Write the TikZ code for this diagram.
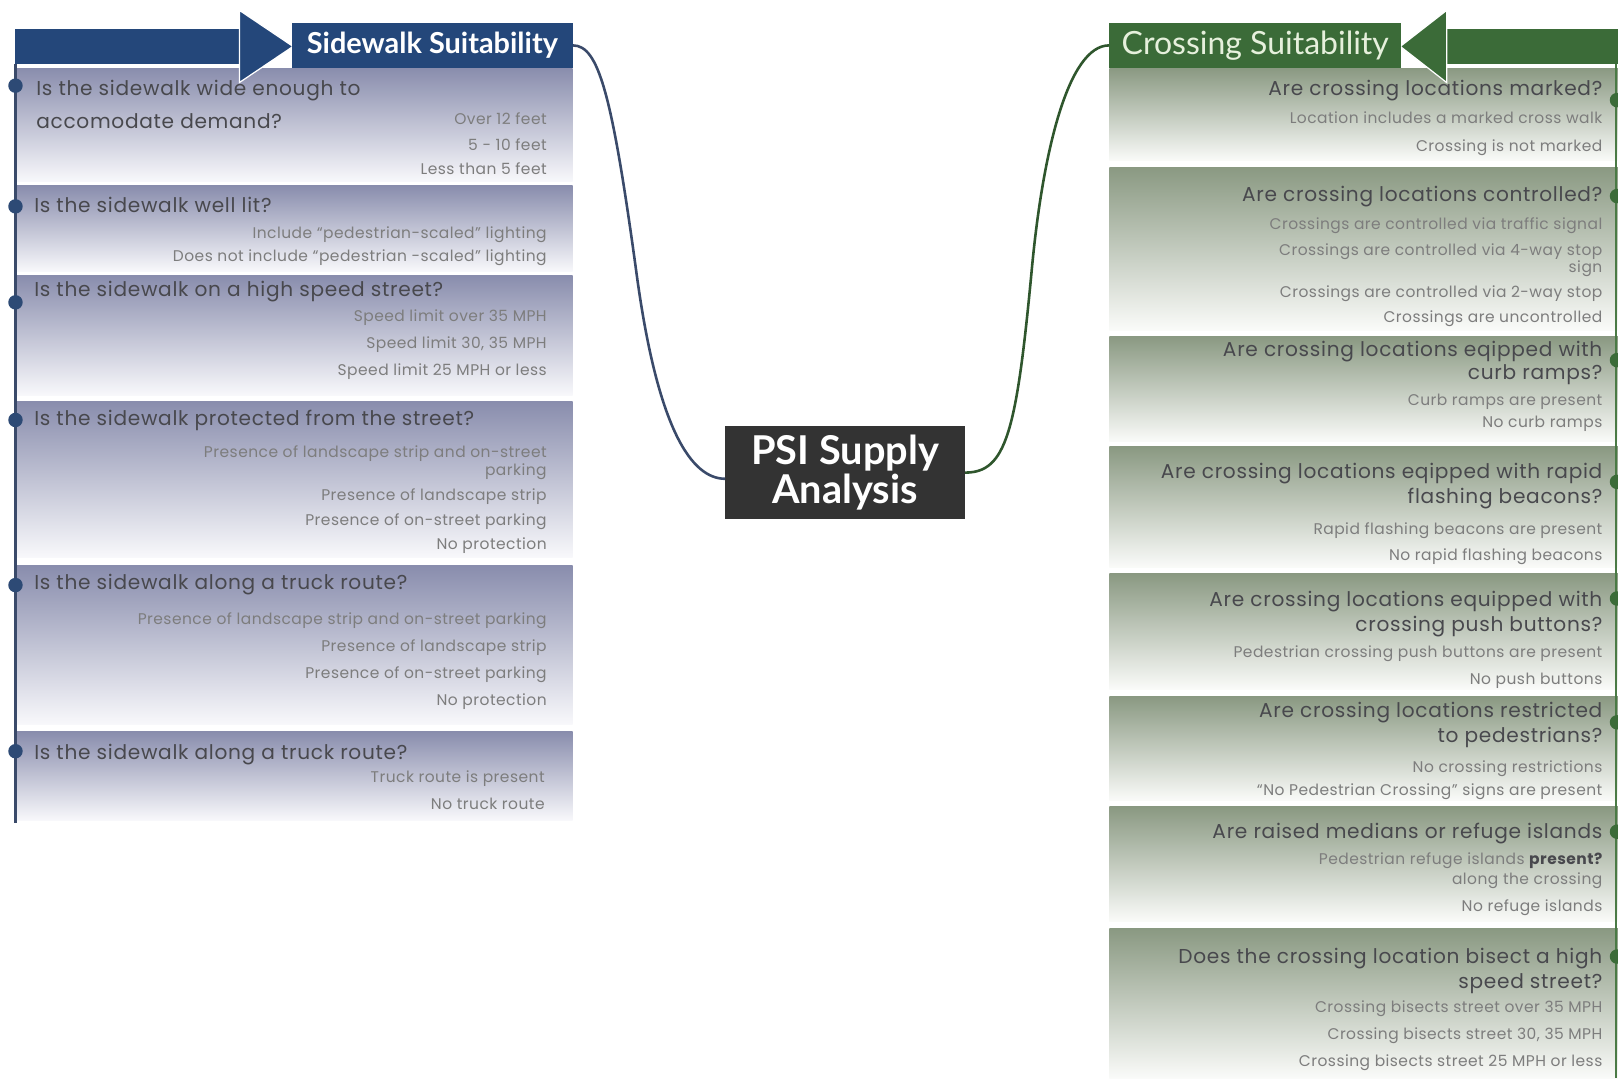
\documentclass[tikz,border=0pt]{standalone}
\usepackage{fontspec}
\usetikzlibrary{calc}
\newfontfamily\geoq{Poppins}[LetterSpace=3.5]
\newfontfamily\geoa{Poppins}[LetterSpace=3]
\newfontfamily\hum{Lato}
\definecolor{swblue}{HTML}{24477A}
\definecolor{csgreen}{HTML}{3B6B38}
\definecolor{cstext}{HTML}{E6F0DC}
\definecolor{lpTop}{HTML}{898DAD}
\definecolor{lpMid}{HTML}{C0C3D6}
\definecolor{lpBot}{HTML}{F8F8FB}
\definecolor{rpTop}{HTML}{8A9982}
\definecolor{rpMid}{HTML}{C3CBBD}
\definecolor{rpBot}{HTML}{FAFBF9}
\definecolor{qcol}{HTML}{48484D}
\definecolor{acol}{HTML}{7D7D7D}
\definecolor{psibox}{HTML}{333333}
\definecolor{lline}{HTML}{3A4A6A}
\definecolor{ldot}{HTML}{2D4A75}
\definecolor{rline}{HTML}{4A7A45}
\begin{document}
\begin{tikzpicture}[x=1pt,y=-1pt,
  lpanel/.style={top color=lpTop, middle color=lpMid, bottom color=lpBot},
  rpanel/.style={top color=rpTop, middle color=rpMid, bottom color=rpBot},
  lq/.style={anchor=west, inner sep=0pt, yshift=-3pt, text=qcol, font=\geoq\fontsize{19.5}{21}\selectfont, text height=0.75em, text depth=0.25em},
  rq/.style={lq, anchor=east},
  ans/.style={anchor=east, inner sep=0pt, yshift=-3pt, text=acol, font=\geoa\fontsize{15}{17}\selectfont, text height=0.75em, text depth=0.25em},
  ldotst/.style={circle, fill=ldot, inner sep=0pt, minimum size=14pt},
  rdotst/.style={circle, fill=csgreen, inner sep=0pt, minimum size=14pt},
  lconn/.style={draw=lline, line width=2.5pt},
  rconn/.style={draw=csgreen!80!black, line width=2.5pt},
]
\useasboundingbox (0,0) rectangle (1568,1048);
\fill[white] (0,0) rectangle (1568,1048);

% ---------- left panels ----------
\shade[lpanel] (15,66) rectangle (555,176);
\shade[lpanel] (15,180) rectangle (555,263);
\shade[lpanel] (15,267) rectangle (555,383);
\shade[lpanel] (15,389) rectangle (555,540);
\shade[lpanel] (15,548) rectangle (555,702);
\shade[lpanel] (15,709) rectangle (555,795);

% ---------- right panels ----------
\shade[rpanel] (1075,66) rectangle (1568,156);
\shade[rpanel] (1075,162) rectangle (1568,320);
\shade[rpanel] (1075,326) rectangle (1568,428);
\shade[rpanel] (1075,433) rectangle (1568,550);
\shade[rpanel] (1075,556) rectangle (1568,668);
\shade[rpanel] (1075,675) rectangle (1568,776);
\shade[rpanel] (1075,782) rectangle (1568,893);
\shade[rpanel] (1075,900) rectangle (1568,1045);

% ---------- side lines ----------
\draw[lline, line width=2.5pt] (15,62) -- (15,798);
\draw[rline, line width=2.5pt] (1566,62) -- (1566,1045);

% ---------- arrows ----------
\fill[swblue] (15,28) -- (234,28) -- (234,62) -- (15,62) -- cycle;
\filldraw[fill=swblue, draw=white, line width=1.2pt, line join=miter] (232,10) -- (284,45) -- (232,80) -- cycle;
\fill[csgreen] (1568,28) -- (1400,28) -- (1400,62) -- (1568,62) -- cycle;
\filldraw[fill=csgreen, draw=white, line width=1.2pt, line join=miter] (1402,10) -- (1357,45) -- (1402,80) -- cycle;

% ---------- title boxes ----------
\node[fill=swblue, text=white, minimum width=272pt, minimum height=44pt, inner sep=0pt,
  font=\hum\bfseries\fontsize{28}{30}\selectfont] (sw) at (419,44) {Sidewalk Suitability};
\node[fill=csgreen, text=cstext, minimum width=283pt, minimum height=44pt, inner sep=0pt,
  font=\hum\fontsize{31}{33}\selectfont] (cs) at (1216.5,44) {Crossing Suitability};
\node[fill=psibox, text=white, minimum width=232pt, minimum height=90pt, inner sep=0pt, align=center,
  font=\hum\bfseries\fontsize{38.5}{38}\selectfont] (psi) at (819,458) {PSI Supply\\Analysis};

% ---------- connectors ----------
\draw[lconn] (sw.east) .. controls (580,44) and (593,90) .. (617,266)
  .. controls (637.4,416) and (670,464) .. ([yshift=-6pt]psi.west);
\draw[rconn] (psi.east) .. controls (975,458) and (985,420) .. (1000,260)
  .. controls (1010.5,148) and (1035,44) .. (cs.west);

% ---------- left dots ----------
\node[ldotst] (ld1) at (15,83) {};
\node[ldotst] (ld2) at (15,200) {};
\node[ldotst] (ld3) at (15,293) {};
\node[ldotst] (ld4) at (15,407) {};
\node[ldotst] (ld5) at (15,567) {};
\node[ldotst] (ld6) at (15,728) {};

% ---------- right dots ----------
\node[rdotst] (rd1) at (1567,97) {};
\node[rdotst] (rd2) at (1567,190) {};
\node[rdotst] (rd3) at (1567,349) {};
\node[rdotst] (rd4) at (1567,467) {};
\node[rdotst] (rd5) at (1567,580) {};
\node[rdotst] (rd6) at (1567,700) {};
\node[rdotst] (rd7) at (1567,806) {};
\node[rdotst] (rd8) at (1567,927) {};

% ---------- left texts ----------
\node[lq] (l1q1) at (35,87) {Is the sidewalk wide enough to};
\node[lq] (l1q2) at (35,119) {accomodate demand?};
\node[ans] (l1a1) at (530,115) {Over 12 feet};
\node[ans] (l1a2) at (530,140) {5 - 10 feet};
\node[ans] (l1a3) at (530,164) {Less than 5 feet};

\node[lq] (l2q) at (33,200) {Is the sidewalk well lit?};
\node[ans] (l2a1) at (530,226) {Include “pedestrian-scaled” lighting};
\node[ans] (l2a2) at (530,248) {Does not include “pedestrian -scaled” lighting};

\node[lq] (l3q) at (33,282) {Is the sidewalk on a high speed street?};
\node[ans] (l3a1) at (530,306) {Speed limit over 35 MPH};
\node[ans] (l3a2) at (530,332) {Speed limit 30, 35 MPH};
\node[ans] (l3a3) at (530,358) {Speed limit 25 MPH or less};

\node[lq] (l4q) at (33,407) {Is the sidewalk protected from the street?};
\node[ans] (l4a1) at (530,438) {Presence of landscape strip and on-street};
\node[ans] (l4a1b) at (530,455) {parking};
\node[ans] (l4a2) at (530,480) {Presence of landscape strip};
\node[ans] (l4a3) at (530,504) {Presence of on-street parking};
\node[ans] (l4a4) at (530,527) {No protection};

\node[lq] (l5q) at (33,566) {Is the sidewalk along a truck route?};
\node[ans] (l5a1) at (530,600) {Presence of landscape strip and on-street parking};
\node[ans] (l5a2) at (530,626) {Presence of landscape strip};
\node[ans] (l5a3) at (530,652) {Presence of on-street parking};
\node[ans] (l5a4) at (530,678) {No protection};

\node[lq] (l6q) at (33,731) {Is the sidewalk along a truck route?};
\node[ans] (l6a1) at (528,753) {Truck route is present};
\node[ans] (l6a2) at (528,779) {No truck route};

% ---------- right texts ----------
\node[rq] (r1q) at (1553,87) {Are crossing locations marked?};
\node[ans] (r1a1) at (1553,114) {Location includes a marked cross walk};
\node[ans] (r1a2) at (1553,141) {Crossing is not marked};

\node[rq] (r2q) at (1553,190) {Are crossing locations controlled?};
\node[ans] (r2a1) at (1553,217) {Crossings are controlled via traffic signal};
\node[ans] (r2a2) at (1553,242) {Crossings are controlled via 4-way stop};
\node[ans] (r2a2b) at (1553,259) {sign};
\node[ans] (r2a3) at (1553,283) {Crossings are controlled via 2-way stop};
\node[ans] (r2a4) at (1553,307) {Crossings are uncontrolled};

\node[rq] (r3q1) at (1553,340) {Are crossing locations eqipped with};
\node[rq] (r3q2) at (1553,362) {curb ramps?};
\node[ans] (r3a1) at (1553,387) {Curb ramps are present};
\node[ans] (r3a2) at (1553,409) {No curb ramps};

\node[rq] (r4q1) at (1553,458) {Are crossing locations eqipped with rapid};
\node[rq] (r4q2) at (1553,482) {flashing beacons?};
\node[ans] (r4a1) at (1553,512) {Rapid flashing beacons are present};
\node[ans] (r4a2) at (1553,538) {No rapid flashing beacons};

\node[rq] (r5q1) at (1553,582) {Are crossing locations equipped with};
\node[rq] (r5q2) at (1553,606) {crossing push buttons?};
\node[ans] (r5a1) at (1553,632) {Pedestrian crossing push buttons are present};
\node[ans] (r5a2) at (1553,658) {No push buttons};

\node[rq] (r6q1) at (1553,690) {Are crossing locations restricted};
\node[rq] (r6q2) at (1553,714) {to pedestrians?};
\node[ans] (r6a1) at (1553,743) {No crossing restrictions};
\node[ans] (r6a2) at (1553,765) {“No Pedestrian Crossing” signs are present};

\node[rq] (r7q1) at (1553,807) {Are raised medians or refuge islands};
\node[ans, text=qcol, font=\geoa\bfseries\fontsize{15}{17}\selectfont] (r7q2) at (1553,832) {present?};
\node[ans] (r7a1) at ([xshift=-4pt,yshift=3pt]r7q2.west) {Pedestrian refuge islands};
\node[ans] (r7a1b) at (1553,852) {along the crossing};
\node[ans] (r7a2) at (1553,878) {No refuge islands};

\node[rq] (r8q1) at (1553,928) {Does the crossing location bisect a high};
\node[rq] (r8q2) at (1553,952) {speed street?};
\node[ans] (r8a1) at (1553,976) {Crossing bisects street over 35 MPH};
\node[ans] (r8a2) at (1553,1002) {Crossing bisects street 30, 35 MPH};
\node[ans] (r8a3) at (1553,1028) {Crossing bisects street 25 MPH or less};
\end{tikzpicture}
\end{document}
